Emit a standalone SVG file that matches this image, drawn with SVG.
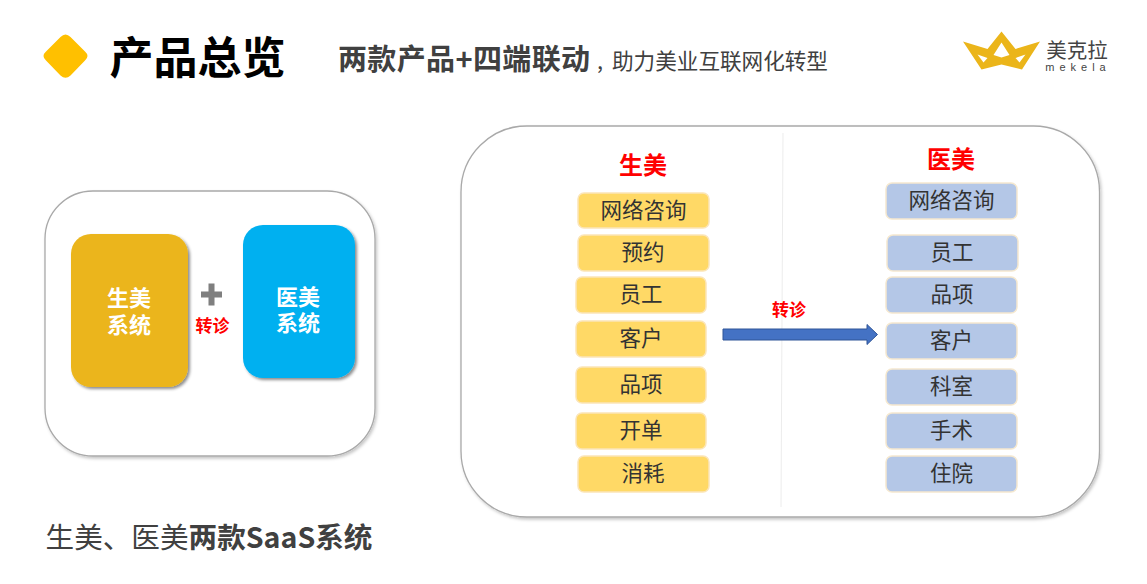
<svg xmlns="http://www.w3.org/2000/svg" width="1147" height="584" viewBox="0 0 1147 584">
<style>
text{font-family:"Noto Sans CJK SC","Liberation Sans",sans-serif;text-anchor:middle}
.panel{fill:#fff;stroke:#a9a9a9;stroke-width:1.3;filter:url(#soft)}
.y{fill:#ffd966;stroke:#fbe5b8;stroke-width:1.5}
.b{fill:#b4c7e7;stroke:#f5e8cf;stroke-width:1.5}
.t{font-size:21.500px;fill:#333}
.w{font-size:22px;font-weight:700;fill:#fff}
.r{font-weight:700;fill:#f00}
</style>
<defs>
<filter id="soft" x="-5%" y="-5%" width="110%" height="110%"><feDropShadow dx="1.500" dy="2" stdDeviation="1.500" flood-color="#000" flood-opacity=".22"/></filter>
<filter id="sh" x="-10%" y="-10%" width="125%" height="125%"><feDropShadow dx="2" dy="2" stdDeviation="1.500" flood-color="#000" flood-opacity=".45"/></filter>
</defs>
<g id="header">
<path d="M60.500 37Q65.500 32 70.500 37L85 51.500Q90 56 85 60.500L70.500 75.500Q65.500 80 60.500 75.500L46 60.500Q41 56 46 51.500Z" fill="#ffc000"/>
<text x="197.500" y="74" font-size="44" font-weight="700" fill="#000">产品总览</text>
<text x="338" y="70" font-size="29" font-weight="700" fill="#404040" style="text-anchor:start" textLength="252">两款产品+四端联动</text>
<text x="600" y="69" font-size="21.600" fill="#404040">,</text>
<text x="720" y="69" font-size="21.600" fill="#404040">助力美业互联网化转型</text>
</g>
<g id="logo">
<path fill-rule="evenodd" fill="#ebb51a" d="M963 41.500L987.500 49L1001.500 31.500L1015.500 49L1040 41.500L1022 69.500L1001.500 64.500L981.500 69.500ZM977.500 54.500L983.500 62.500L987.500 58ZM1025.500 54.500L1015.500 58L1019.500 62.500ZM1001.500 42.500L993.500 55L1001.500 57.500L1009.500 55Z"/>
<text font-size="20.500" fill="#444"><tspan x="1077" y="58">美克拉</tspan><tspan x="1078" y="71" font-size="11" font-family="Liberation Sans" letter-spacing="5">mekela</tspan></text>
</g>
<g id="system-panel">
<rect class="panel" x="45" y="191" width="330" height="265" rx="48"/>
</g>
<g id="shengmei-system">
<rect x="71" y="234" width="117" height="153" rx="20" fill="#ebb51a" filter="url(#sh)"/>
<text class="w"><tspan x="129" y="306">生美</tspan><tspan x="129" y="333">系统</tspan></text>
</g>
<g id="plus"><path d="M201 291.500H208.500V283.500H214.500V291.500H222V297.500H214.500V305.500H208.500V297.500H201Z" fill="#7f7f7f"/></g>
<text class="r" x="212.500" y="332" font-size="17">转诊</text>
<g id="yimei-system">
<rect x="243" y="225" width="112" height="153" rx="20" fill="#00b0f0" filter="url(#sh)"/>
<text class="w"><tspan x="298" y="305">医美</tspan><tspan x="298" y="331">系统</tspan></text>
</g>
<text x="209" y="548" font-size="28.600" fill="#404040">生美、医美<tspan font-weight="700">两款SaaS系统</tspan></text>
<g id="flow-panel">
<rect class="panel" x="461" y="126" width="638.500" height="391" rx="66"/>
<line x1="783" y1="133" x2="781" y2="507" stroke="#ececec"/>
<text class="r" x="643" y="174" font-size="24">生美</text>
<text class="r" x="951" y="168" font-size="24">医美</text>
</g>
<g id="left-list">
<rect class="y" x="578" y="193" width="131" height="35" rx="6"/><text class="t" x="643.500" y="218">网络咨询</text>
<rect class="y" x="578" y="235" width="131" height="36" rx="6"/><text class="t" x="643" y="260">预约</text>
<rect class="y" x="576" y="277" width="130" height="36" rx="6"/><text class="t" x="641" y="302">员工</text>
<rect class="y" x="576" y="321" width="130" height="36" rx="6"/><text class="t" x="641" y="346">客户</text>
<rect class="y" x="576" y="367" width="130" height="36" rx="6"/><text class="t" x="641" y="392">品项</text>
<rect class="y" x="576" y="413" width="130" height="36" rx="6"/><text class="t" x="641" y="438">开单</text>
<rect class="y" x="578" y="456" width="131" height="36" rx="6"/><text class="t" x="643" y="481">消耗</text>
</g>
<g id="right-list">
<rect class="b" x="886" y="183" width="131" height="36" rx="6"/><text class="t" x="951.500" y="208">网络咨询</text>
<rect class="b" x="887" y="235" width="131" height="36" rx="6"/><text class="t" x="952" y="260">员工</text>
<rect class="b" x="886" y="277" width="131" height="36" rx="6"/><text class="t" x="952" y="302">品项</text>
<rect class="b" x="886" y="323" width="131" height="36" rx="6"/><text class="t" x="951.500" y="348">客户</text>
<rect class="b" x="886" y="369" width="131" height="36" rx="6"/><text class="t" x="951.500" y="394">科室</text>
<rect class="b" x="886" y="413" width="131" height="36" rx="6"/><text class="t" x="951.500" y="438">手术</text>
<rect class="b" x="886" y="456" width="131" height="36" rx="6"/><text class="t" x="951.500" y="481">住院</text>
</g>
<g id="connectors">
<path d="M723 329H867V324.500L877.500 334.500L867 344.500V340H723Z" fill="#4472c4" stroke="#2f5597"/>
<text class="r" x="789" y="316" font-size="17">转诊</text>
</g>
</svg>
